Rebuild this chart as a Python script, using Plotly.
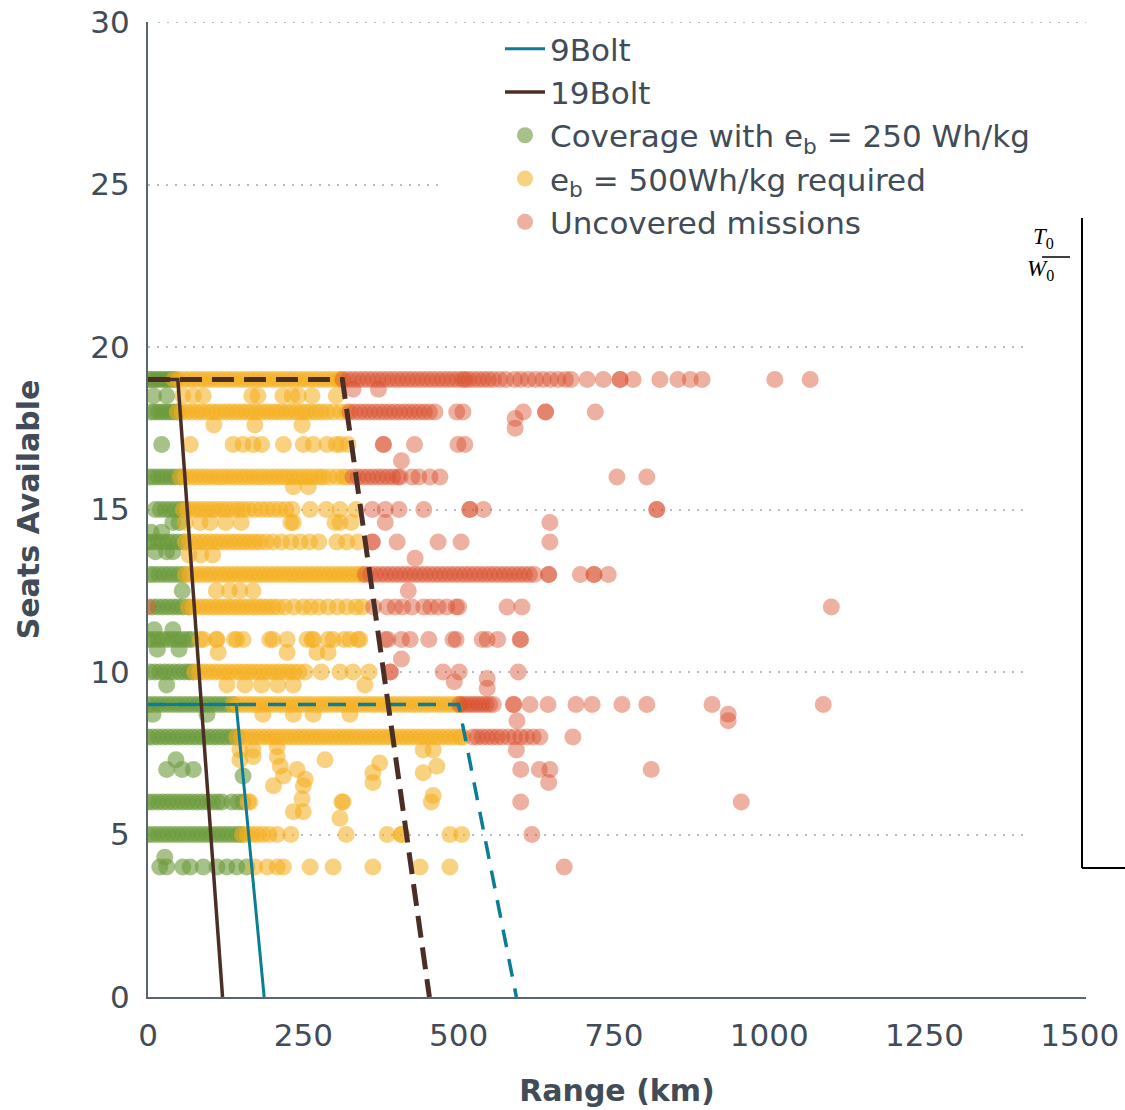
import plotly.graph_objects as go

# ---------------- data ----------------
# Missions covered with e_b = 250 Wh/kg (green): seat rows and ranges (km)
GREEN_SEATS = [19, 18.5, 18, 17, 16, 15, 14.6, 14.3, 14, 13.7, 13, 12.5, 12,
               11.3, 11, 10.7, 10, 9.6, 9, 8.7, 8, 7.3, 7, 6.8, 6, 5, 4.3, 4]
GREEN_RANGES = [
    [0, 5, 10, 15, 20, 25, 30, 35, 40, 44],
    [9, 30],
    [5, 11, 17, 23, 29, 35, 41, 47],
    [22],
    [2, 9, 16, 23, 30, 37, 44, 52],
    [12, 20, 28, 36, 44, 52, 57],
    [40, 50],
    [5, 22],
    [0, 8, 16, 24, 32, 40, 48, 57],
    [12, 30, 40],
    [3, 10, 18, 26, 34, 42, 50, 58],
    [55],
    [8, 16, 24, 32, 40, 48, 56, 65],
    [10, 40],
    [0, 8, 16, 24, 32, 40, 48, 56, 64, 70],
    [15, 50],
    [3, 11, 19, 27, 35, 43, 51, 59, 66, 72],
    [30],
    [0, 8, 16, 24, 32, 40, 48, 56, 64, 72, 80, 88, 96, 104, 112, 120, 128, 137],
    [8, 95],
    [0, 8, 16, 24, 32, 40, 48, 56, 64, 72, 80, 88, 96, 104, 112, 120, 128, 136, 144],
    [45],
    [30, 55, 73],
    [153],
    [0, 8, 16, 24, 32, 40, 48, 56, 64, 72, 80, 88, 96, 104, 112, 119, 135, 145, 153],
    [0, 8, 16, 24, 32, 40, 48, 56, 64, 72, 80, 88, 96, 104, 112, 120, 128, 136, 144, 150],
    [27],
    [19, 30, 56, 68, 89, 111, 127, 143, 159],
]

# Missions requiring e_b = 500 Wh/kg (yellow)
YELLOW_SEATS = [19, 18.5, 18, 17.6, 17, 16, 15.7, 15, 14.6, 14, 13.6, 13, 12.5, 12,
                11, 10.6, 10, 9.6, 9, 8.7, 8, 6, 5, 4]
YELLOW_RANGES = [
    [42, 50, 58, 66, 74, 82, 90, 98, 106, 114, 122, 130, 138, 146, 154, 162, 170, 178,
     186, 194, 202, 210, 218, 226, 234, 242, 250, 258, 266, 274, 282, 290, 298, 306, 310],
    [56, 73, 89, 167, 177, 217, 232, 242, 264, 303],
    [47, 55, 63, 71, 79, 87, 95, 103, 111, 119, 127, 135, 143, 151, 159, 167, 175, 183,
     191, 199, 207, 215, 223, 231, 239, 247, 255, 263, 271, 279, 288, 298, 310, 320],
    [106, 172, 248],
    [68, 137, 153, 169, 183, 218, 250, 266, 288, 303, 310, 322],
    [52, 60, 68, 76, 84, 92, 100, 108, 116, 124, 132, 140, 148, 156, 164, 172, 180, 188,
     196, 204, 212, 220, 228, 236, 244, 252, 260, 268, 276, 282, 292, 304, 314, 320],
    [234, 258],
    [57, 64, 72, 80, 88, 96, 104, 112, 120, 128, 137, 145, 153, 162, 172, 182, 192, 202,
     212, 222, 232, 261, 287, 309, 335],
    [60, 84, 100, 125, 150, 230, 234, 301, 309, 327],
    [60, 68, 76, 84, 92, 100, 108, 116, 124, 132, 140, 148, 156, 164, 172, 180, 190, 201,
     215, 230, 245, 260, 275, 304, 320, 338],
    [66, 85, 104],
    [60, 68, 76, 84, 92, 100, 108, 116, 124, 132, 140, 148, 156, 164, 172, 180, 188, 196,
     204, 212, 220, 228, 236, 244, 252, 260, 268, 276, 284, 292, 300, 308, 316, 324, 332, 340, 346],
    [110, 131, 148, 169],
    [65, 73, 81, 89, 97, 105, 113, 121, 129, 137, 145, 153, 161, 169, 177, 185, 193, 201,
     209, 220, 235, 250, 262, 275, 290, 305, 320, 335, 345],
    [84, 89, 110, 111, 139, 143, 153, 196, 201, 224, 256, 264, 266, 290, 298, 316, 325, 338, 341],
    [113, 224, 272, 290],
    [75, 83, 91, 99, 107, 115, 123, 131, 139, 147, 155, 163, 171, 179, 187, 195, 203, 211,
     219, 227, 235, 243, 253, 279, 309, 330, 356],
    [127, 156, 183, 209, 234, 349],
    [137, 145, 153, 161, 169, 177, 185, 193, 201, 209, 217, 225, 233, 241, 249, 257, 265,
     273, 281, 289, 297, 305, 313, 321, 329, 337, 345, 353, 361, 369, 377, 385, 393, 401,
     409, 417, 425, 433, 441, 449, 457, 465, 473, 481, 489, 497, 502],
    [185, 234, 266, 325],
    [143, 151, 159, 167, 175, 183, 191, 199, 207, 215, 223, 231, 239, 247, 255, 263, 271,
     279, 287, 295, 303, 311, 319, 327, 335, 343, 351, 359, 367, 375, 383, 391, 399, 407,
     415, 423, 431, 439, 447, 455, 463, 471, 479, 487, 495, 503, 507],
    [161, 164, 312, 456],
    [152, 160, 168, 176, 185, 195, 208, 230, 319, 385, 408, 408, 486, 505],
    [172, 192, 208, 218, 261, 298, 362, 438, 486],
]
# scattered yellow missions between rows 5 and 8
YELLOW_SCATTER_X = [148, 169, 208, 213, 218, 240, 253, 250, 285, 202, 362, 362, 373, 443,
                    459, 465, 314, 309, 234, 250, 248, 443, 459, 148, 169, 208]
YELLOW_SCATTER_Y = [7.3, 7.4, 7.4, 7.1, 6.8, 7.0, 6.7, 6.5, 7.3, 6.5, 6.9, 6.6, 7.2, 6.9,
                    6.2, 7.1, 6.0, 5.5, 5.7, 5.7, 6.1, 7.6, 7.6, 7.6, 7.6, 7.7]

# Uncovered missions (red)
RED_SEATS = [19, 18.7, 18, 17.8, 17.5, 17, 16.5, 16, 15, 14.6, 14, 13.5, 13, 12.5, 12,
             11, 10.4, 10, 9.8, 9.7, 9.5, 9, 8.7, 8.5, 8, 7.6, 7, 6.6, 6, 5, 4]
RED_RANGES = [
    [314, 322, 330, 338, 346, 354, 362, 370, 378, 386, 394, 402, 410, 418, 426, 434, 442,
     450, 458, 466, 474, 482, 490, 498, 506, 510, 516, 524, 532, 540, 548, 556, 566, 576,
     590, 600, 612, 624, 636, 648, 660, 672, 681, 707, 733, 760, 760, 781, 824, 853, 873,
     892, 1009, 1066],
    [330, 371],
    [325, 333, 341, 349, 357, 365, 373, 381, 389, 397, 405, 413, 421, 429, 437, 445, 453,
     462, 497, 507, 604, 640, 640, 720],
    [591],
    [591],
    [379, 379, 429, 499, 510],
    [408],
    [330, 338, 346, 354, 362, 370, 378, 386, 394, 402, 406, 425, 436, 454, 470, 755, 803],
    [361, 382, 404, 444, 518, 518, 540, 819, 819],
    [382, 647],
    [361, 361, 401, 467, 504, 647],
    [430],
    [350, 358, 366, 374, 382, 390, 398, 406, 414, 422, 430, 438, 446, 454, 462, 470, 478,
     486, 494, 502, 510, 518, 526, 534, 542, 550, 558, 566, 574, 582, 590, 598, 606, 614,
     622, 645, 645, 696, 718, 718, 741],
    [419],
    [0, 363, 385, 398, 410, 425, 444, 455, 467, 481, 496, 500, 578, 602, 1100],
    [382, 386, 408, 422, 452, 491, 496, 538, 546, 563, 599, 600],
    [408],
    [390, 390, 475, 501, 596],
    [546],
    [493],
    [546],
    [502, 508, 514, 520, 526, 532, 538, 544, 550, 556, 588, 589, 615, 644, 689, 715, 763,
     803, 908, 1087],
    [934],
    [594, 934],
    [523, 530, 538, 546, 554, 562, 570, 580, 590, 600, 610, 620, 631, 684],
    [593],
    [600, 630, 647, 810],
    [645],
    [600, 955],
    [618],
    [670],
]

# Aircraft capability lines (range km, seats)
BOLT9_SOLID_X = [0, 142, 187]
BOLT9_SOLID_Y = [9, 9, 0]
BOLT9_DASH_X = [0, 500, 593]
BOLT9_DASH_Y = [9, 9, 0]
BOLT19_SOLID_X = [0, 48, 120]
BOLT19_SOLID_Y = [19, 19, 0]
BOLT19_DASH_X = [0, 313, 453]
BOLT19_DASH_Y = [19, 19, 0]

X_TICKS = [0, 250, 500, 750, 1000, 1250, 1500]
Y_TICKS = [0, 5, 10, 15, 20, 25, 30]


def expand(seats, ranges):
    xs, ys = [], []
    for s, row in zip(seats, ranges):
        for v in row:
            xs.append(v)
            ys.append(s)
    return xs, ys


gx, gy = expand(GREEN_SEATS, GREEN_RANGES)
yx, yy = expand(YELLOW_SEATS, YELLOW_RANGES)
yx += YELLOW_SCATTER_X
yy += YELLOW_SCATTER_Y
rx, ry = expand(RED_SEATS, RED_RANGES)

GREEN = "#6a9a3a"
YELLOW = "#f4af1f"
RED = "#d84a28"
TEAL = "#0b7d96"
BROWN = "#4b2f27"
TXT = "#414c58"
GRID = "#b5bcc3"

fig = go.Figure()

fig.add_trace(go.Scatter(x=gx, y=gy, mode="markers", name="Coverage with e<sub>b</sub> = 250 Wh/kg",
                         marker=dict(color=GREEN, size=17, opacity=0.6, line=dict(width=0)),
                         legendrank=3))
fig.add_trace(go.Scatter(x=yx, y=yy, mode="markers", name="e<sub>b</sub> = 500Wh/kg required",
                         marker=dict(color=YELLOW, size=17, opacity=0.56, line=dict(width=0)),
                         legendrank=4))
fig.add_trace(go.Scatter(x=rx, y=ry, mode="markers", name="Uncovered missions",
                         marker=dict(color=RED, size=17, opacity=0.44, line=dict(width=0)),
                         legendrank=5))

fig.add_trace(go.Scatter(x=BOLT9_DASH_X, y=BOLT9_DASH_Y, mode="lines", showlegend=False,
                         line=dict(color=TEAL, width=3.5, dash="18px,12px")))
fig.add_trace(go.Scatter(x=BOLT19_DASH_X, y=BOLT19_DASH_Y, mode="lines", showlegend=False,
                         line=dict(color=BROWN, width=5, dash="22px,10px")))
fig.add_trace(go.Scatter(x=BOLT9_SOLID_X, y=BOLT9_SOLID_Y, mode="lines", name="9Bolt",
                         line=dict(color=TEAL, width=3), legendrank=1))
fig.add_trace(go.Scatter(x=BOLT19_SOLID_X, y=BOLT19_SOLID_Y, mode="lines", name="19Bolt",
                         line=dict(color=BROWN, width=3.5), legendrank=2))

# figure fills the page (body margin removed by post_script)
W, H = 1125, 1110
L, R, T, B = 148, 1086, 22, 997


def px(xp):
    return (xp - L) / (R - L)


def py(yp):
    return (B - yp) / (B - T)


shapes = [
    # top gridline at 30 seats
    dict(type="line", xref="paper", yref="y", x0=px(158), x1=1.0, y0=30, y1=30,
         line=dict(color=GRID, width=2, dash="2px,7px"), layer="below"),
    # white box behind legend (hides the 25 gridline)
    dict(type="rect", xref="paper", yref="paper", x0=px(445), x1=1.0, y0=py(242), y1=py(30),
         fillcolor="white", line=dict(width=0), layer="above"),
    # pasted fragment at the right edge
    dict(type="rect", xref="paper", yref="paper", x0=px(1030), x1=px(1125), y0=py(870), y1=py(218),
         fillcolor="white", line=dict(width=0), layer="above"),
    dict(type="line", xref="paper", yref="paper", x0=px(1082), x1=px(1082), y0=py(868), y1=py(218),
         line=dict(color="black", width=2), layer="above"),
    dict(type="line", xref="paper", yref="paper", x0=px(1082), x1=px(1125), y0=py(868), y1=py(868),
         line=dict(color="black", width=2), layer="above"),
    dict(type="line", xref="paper", yref="paper", x0=px(1042), x1=px(1070), y0=py(257), y1=py(257),
         line=dict(color="black", width=1.5), layer="above"),
]

annotations = [
    dict(text="<i>T</i><sub>0</sub>", xref="paper", yref="paper", x=px(1056), y=py(222),
         showarrow=False, font=dict(family="Liberation Serif", size=23, color="black")),
    dict(text="<i>W</i><sub>0</sub>", xref="paper", yref="paper", x=px(1056), y=py(254),
         showarrow=False, font=dict(family="Liberation Serif", size=23, color="black")),
]

fig.update_layout(
    width=W, height=H,
    margin=dict(l=L, r=W - R, t=T, b=H - B),
    plot_bgcolor="white", paper_bgcolor="white",
    font=dict(family="DejaVu Sans", color=TXT),
    shapes=shapes, annotations=annotations,
    legend=dict(x=px(500), y=py(22), xanchor="left", yanchor="top",
                bgcolor="rgba(0,0,0,0)", font=dict(size=31, color=TXT),
                itemwidth=40, traceorder="normal"),
    xaxis=dict(range=[0, 1510], tickvals=X_TICKS, showgrid=False, zeroline=False,
               showline=True, linecolor="#5b6570", linewidth=2,
               ticks="outside", ticklen=10, tickcolor="rgba(0,0,0,0)",
               tickfont=dict(size=31, color=TXT), automargin=False,
               ticklabeloverflow="allow",
               title=dict(text="<b>Range (km)</b>", font=dict(size=30, color=TXT), standoff=28)),
    yaxis=dict(range=[0, 30], tickvals=Y_TICKS, showgrid=True, gridcolor=GRID,
               gridwidth=2, griddash="2px,7px", zeroline=False,
               showline=True, linecolor="#5b6570", linewidth=2,
               ticks="outside", ticklen=10, tickcolor="rgba(0,0,0,0)",
               tickfont=dict(size=31, color=TXT), automargin=False,
               ticklabeloverflow="allow",
               title=dict(text="<b>Seats Available</b>", font=dict(size=30, color=TXT), standoff=42)),
)

fig.write_html("out.html", config={"displayModeBar": False},
               post_script="document.body.style.margin='0';document.body.style.overflow='hidden';")
